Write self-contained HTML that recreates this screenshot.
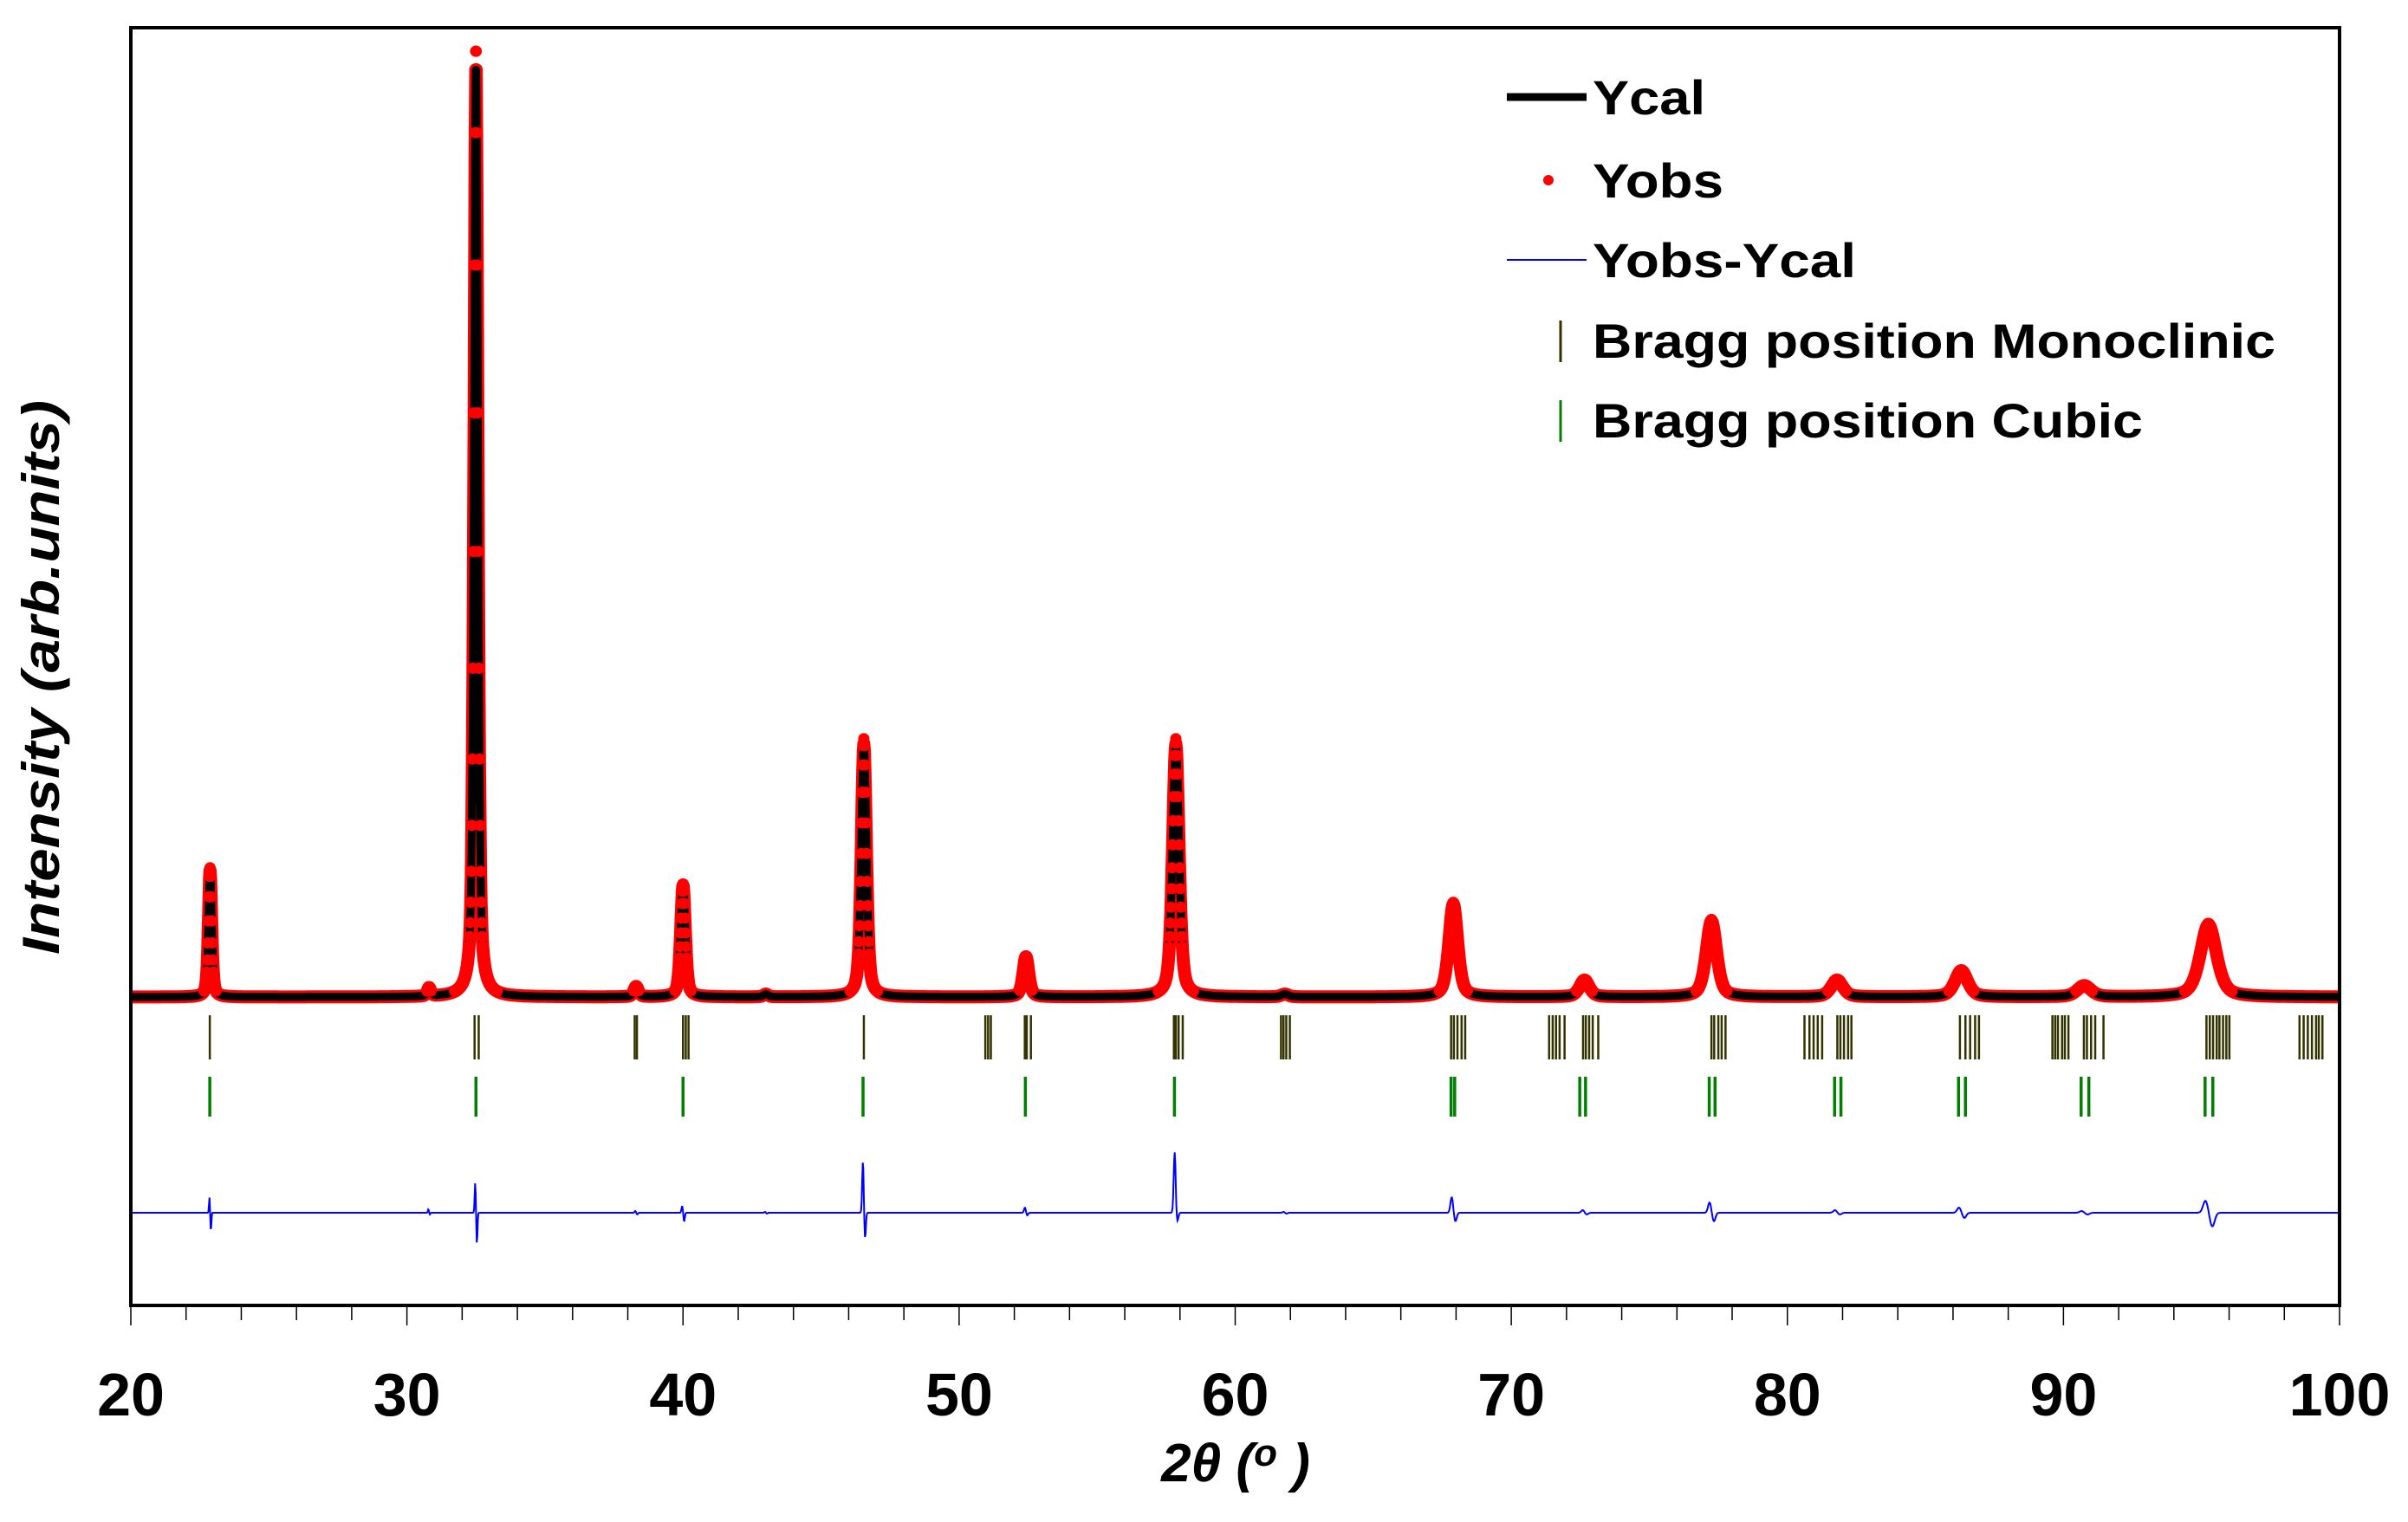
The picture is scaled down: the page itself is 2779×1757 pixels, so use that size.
<!DOCTYPE html>
<html><head><meta charset="utf-8">
<style>
html,body{margin:0;padding:0;background:#fff;}
svg{display:block;font-family:"Liberation Sans",Arial,sans-serif;}
</style></head>
<body>
<svg id="chart" width="2779" height="1757" viewBox="0 0 2779 1757" xmlns="http://www.w3.org/2000/svg">
  <rect x="0" y="0" width="2779" height="1757" fill="#fff"/>
  <g id="plot"></g>
  <rect x="151" y="32" width="2549" height="1475" fill="none" stroke="#000" stroke-width="4"/>
  <g id="xaxis"></g>
  <text transform="translate(68,782) rotate(-90)" text-anchor="middle" font-size="60" font-weight="bold" font-style="italic" textLength="640" lengthAdjust="spacingAndGlyphs">Intensity (arb.units)</text>
  <text x="1426" y="1710" text-anchor="middle" font-size="62" font-weight="bold" font-style="italic">2θ (<tspan dy="-18" font-size="44">o</tspan><tspan dy="18"> )</tspan></text>
  <g font-size="56" font-weight="bold">
    <line x1="1739" y1="112" x2="1831" y2="112" stroke="#000" stroke-width="9"/>
    <text x="1838" y="132" textLength="130" lengthAdjust="spacingAndGlyphs">Ycal</text>
    <circle cx="1787" cy="208" r="6" fill="#ff0000"/>
    <text x="1838" y="228" textLength="151" lengthAdjust="spacingAndGlyphs">Yobs</text>
    <line x1="1739" y1="300" x2="1831" y2="300" stroke="#0000ff" stroke-width="2"/>
    <text x="1838" y="320" textLength="304" lengthAdjust="spacingAndGlyphs">Yobs-Ycal</text>
    <line x1="1801" y1="370" x2="1801" y2="418" stroke="#333300" stroke-width="3"/>
    <text x="1838" y="413" textLength="788" lengthAdjust="spacingAndGlyphs">Bragg position Monoclinic</text>
    <line x1="1801" y1="462" x2="1801" y2="510" stroke="#008000" stroke-width="3"/>
    <text x="1838" y="505" textLength="635" lengthAdjust="spacingAndGlyphs">Bragg position Cubic</text>
  </g>
</svg>
<script>
// ---- data ----
const peakPos = [22.87, 30.8, 32.5, 38.3, 40.0, 43.0, 46.55, 52.42, 57.85, 61.8, 67.9, 72.65, 77.25, 81.8, 86.3, 90.75, 95.25];
const peakHeight = [135, 9, 1000, 11, 119, 3, 270, 43, 270, 3, 99, 18, 81, 18, 28, 12, 77];
const peakFwhm = [0.14, 0.15, 0.17, 0.2, 0.2, 0.2, 0.22, 0.25, 0.28, 0.3, 0.38, 0.42, 0.45, 0.5, 0.55, 0.6, 0.7];
const diffUp = [18, 4, 35, 2, 8, 1, 60, 6, 70, 1, 18, 3, 12, 3, 6, 2, 14];
const diffDown = [22, 2, 36, 2, 10, 1, 30, 3, 10, 1, 10, 2, 10, 2, 6, 2, 16];
const monoTicks = [22.86, 32.45, 32.6, 38.25, 38.33, 40.0, 40.1, 40.2, 46.55, 50.95, 51.05, 51.15, 52.38, 52.45, 52.6,
  57.78, 57.85, 57.95, 58.1, 61.66, 61.75, 61.85, 61.98, 67.82, 67.92, 68.05, 68.2, 68.33,
  71.37, 71.5, 71.62, 71.75, 71.93, 72.6, 72.7, 72.82, 72.95, 73.15, 77.25, 77.35, 77.5, 77.62, 77.76,
  80.62, 80.8, 80.95, 81.1, 81.26, 81.81, 81.92, 82.05, 82.2, 82.32, 86.25, 86.45, 86.62, 86.8, 86.94,
  89.6, 89.7, 89.8, 89.95, 90.05, 90.18, 90.74, 90.85, 91.0, 91.15, 91.45,
  95.18, 95.3, 95.42, 95.55, 95.65, 95.78, 95.9, 96.01, 98.55, 98.7, 98.85, 99.0, 99.15, 99.25, 99.38];
const cubicTicks = [22.86, 32.5, 40.0, 46.52, 52.4, 57.8, 67.82, 67.95, 72.48, 72.69, 77.17, 77.38, 81.71, 81.94, 86.2, 86.45, 90.64, 90.92, 95.13, 95.41];
const xTickLabels = [20, 30, 40, 50, 60, 70, 80, 90, 100];

// ---- axes ----
const X0 = 151, X1 = 2700, XMIN = 20, XMAX = 100;
function xs(v){ return X0 + (v - XMIN) / (XMAX - XMIN) * (X1 - X0); }
const BASE = 1151, KY = 1.083;
function ys(I){ return BASE - I * KY; }
const DIFF0 = 1400;

const NS = "http://www.w3.org/2000/svg";
function mk(tag, attrs, parent){
  const e = document.createElementNS(NS, tag);
  for (const k in attrs) e.setAttribute(k, attrs[k]);
  parent.appendChild(e); return e;
}
function profile(t){
  let s = 0;
  for (let i = 0; i < peakPos.length; i++){
    const g = peakFwhm[i] / 2, d = t - peakPos[i];
    const L = 1 / (1 + (d / g) * (d / g));
    const G = Math.exp(-0.693 * (d / g) * (d / g));
    s += peakHeight[i] * (0.5 * L + 0.5 * G);
  }
  return s;
}
function diff(t){
  let s = 0;
  for (let i = 0; i < peakPos.length; i++){
    const g = peakFwhm[i] / 2, d = (t - peakPos[i]) / g;
    s += diffUp[i] * Math.exp(-Math.pow((d + 0.3) / 0.35, 2)) - diffDown[i] * Math.exp(-Math.pow((d - 0.4) / 0.35, 2));
  }
  return s;
}
const plot = document.getElementById('plot');
const step = 0.02;
let calc = "", dif = "";
for (let t = XMIN + 0.05; t <= XMAX - 0.05; t += step){
  calc += (calc ? " L" : "M") + xs(t).toFixed(1) + " " + ys(profile(t)).toFixed(1);
  dif += (dif ? " L" : "M") + xs(t).toFixed(1) + " " + (DIFF0 - diff(t)).toFixed(1);
}
const bandEl = mk('path', {d: calc, fill: "none", stroke: "#ff0000", "stroke-width": 15, "stroke-linejoin": "round"}, plot);


const calcEl = mk('path', {d: calc, fill: "none", stroke: "#000", "stroke-width": 9, "stroke-linejoin": "round"}, plot);


const obsG = mk('g', {fill: "#ff0000"}, plot);


for (let t = XMIN + 0.05; t <= XMAX - 0.05; t += step){
  const I = profile(t);
  if (I < 6) continue;
  const c = mk('circle', {cx: xs(t).toFixed(1), cy: ys(I * 1.02).toFixed(1), r: 6.5}, obsG);
  
  
}
const difEl = mk('path', {d: dif, fill: "none", stroke: "#0000ff", "stroke-width": 2}, plot);



monoTicks.forEach(v => {
  const l = mk('line', {x1: xs(v), x2: xs(v), y1: 1172, y2: 1223, stroke: "#333300", "stroke-width": 2.5}, plot);
  
  
});
cubicTicks.forEach(v => {
  const l = mk('line', {x1: xs(v), x2: xs(v), y1: 1243, y2: 1289, stroke: "#008000", "stroke-width": 3.5}, plot);
  
  
});

const xa = document.getElementById('xaxis');
for (let v = XMIN; v <= XMAX; v += 2){
  const major = (v % 10 === 0);
  const l = mk('line', {x1: xs(v), x2: xs(v), y1: 1507, y2: major ? 1530 : 1524, stroke: "#000", "stroke-width": 1.5}, xa);
  
  
}
xTickLabels.forEach(v => {
  const t = mk('text', {x: xs(v), y: 1634, "text-anchor": "middle", "font-size": 70, "font-weight": "bold"}, xa);
  t.textContent = v;
  
  
});
</script>
</body></html>
